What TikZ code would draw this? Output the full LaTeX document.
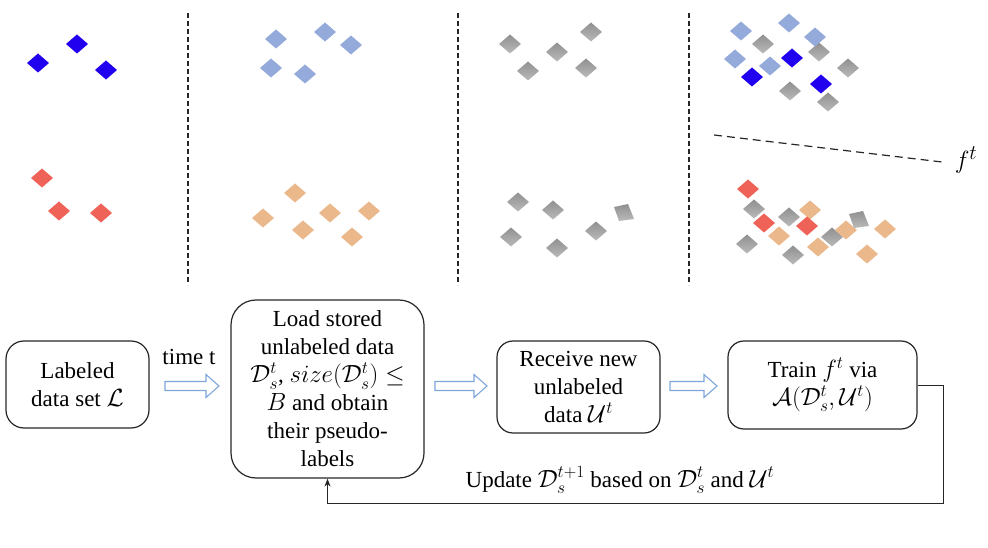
\documentclass[tikz,border=0pt]{standalone}
\usepackage{fontspec}
\setmainfont{LiberationSerif}[Extension=.ttf,UprightFont=*-Regular,BoldFont=*-Bold,ItalicFont=*-Italic,BoldItalicFont=*-BoldItalic]
\usetikzlibrary{arrows.meta}
\definecolor{cblue}{HTML}{2000EE}
\definecolor{cred}{HTML}{EE6257}
\definecolor{clblue}{HTML}{94AADB}
\definecolor{corange}{HTML}{EBB88B}
\definecolor{cgtop}{HTML}{909090}
\definecolor{cgbot}{HTML}{BABABA}
\definecolor{arrblue}{HTML}{7EA6DC}
\definecolor{boxline}{HTML}{262626}
\newcommand\dm[3]{\path[#3] (#1,#2) +(-11,0) -- +(0,-9.5) -- +(11,0) -- +(0,9.5) -- cycle;}
\newcommand\tiltsq[2]{\path[gdia] (#1,#2) +(-10,-5) -- +(4,-8) -- +(10,7) -- +(-5,9) -- cycle;}
\newcommand\barrow[3]{\draw[barr] (#1,#3-4.5) -- (#2-13,#3-4.5) -- (#2-13,#3-11.5) -- (#2,#3) -- (#2-13,#3+11.5) -- (#2-13,#3+4.5) -- (#1,#3+4.5) -- cycle;}
\tikzset{
  bdia/.style={fill=cblue},
  rdia/.style={fill=cred},
  lbdia/.style={fill=clblue},
  odia/.style={fill=corange},
  gdia/.style={top color=cgtop,bottom color=cgbot},
  vsep/.style={line width=1.4pt,dash pattern=on 5pt off 3pt,black!85},
  barr/.style={draw=arrblue,line width=1.1pt,fill=white},
  stepbox/.style={draw=boxline,line width=1.2pt,align=center,inner sep=0pt,
     font=\fontsize{23}{28}\selectfont},
}
\begin{document}
\begin{tikzpicture}[x=1pt,y=-1pt]
\useasboundingbox (0,0) rectangle (988,548);
% separators
\draw[vsep] (188,13) -- (188,285);
\draw[vsep] (458,13) -- (458,285);
\draw[vsep] (689,13) -- (689,285);
% panel 1
\dm{38}{63}{bdia}\dm{77}{44}{bdia}\dm{106}{70}{bdia}
\dm{42}{178}{rdia}\dm{59}{211}{rdia}\dm{101}{213}{rdia}
% panel 2
\dm{276}{39}{lbdia}\dm{325}{32}{lbdia}\dm{351}{45}{lbdia}\dm{271}{68}{lbdia}\dm{305}{74}{lbdia}
\dm{295}{193}{odia}\dm{263}{218}{odia}\dm{330}{213}{odia}\dm{369}{211}{odia}\dm{303}{230}{odia}\dm{352}{237}{odia}
% panel 3
\dm{510}{44}{gdia}\dm{591}{32}{gdia}\dm{557}{52}{gdia}\dm{528}{71}{gdia}\dm{586}{68}{gdia}
\dm{518}{202}{gdia}\dm{553}{210}{gdia}\tiltsq{624}{212}\dm{511}{237}{gdia}\dm{596}{231}{gdia}\dm{557}{248}{gdia}
% panel 4 top
\dm{763}{44}{gdia}\dm{819}{52}{gdia}\dm{848}{68}{gdia}\dm{790}{91}{gdia}\dm{828}{102}{gdia}
\dm{741}{31}{lbdia}\dm{789}{23}{lbdia}\dm{815}{37}{lbdia}\dm{735}{59}{lbdia}\dm{770}{66}{lbdia}
\dm{792}{58}{bdia}\dm{752}{77}{bdia}\dm{821}{84}{bdia}
% decision boundary
\draw[line width=1.2pt,dash pattern=on 8pt off 5pt,black!85] (714,135) -- (942,162);
\node (ft) at (966,160) {\fontsize{30}{34}\selectfont $f^t$};
% panel 4 bottom
\dm{748}{189}{rdia}
\dm{754}{209}{gdia}
\dm{810}{210}{odia}
\dm{764}{223}{rdia}
\dm{789}{217}{gdia}
\dm{807}{226}{rdia}
\dm{779}{236}{odia}
\dm{832}{237}{gdia}
\dm{846}{230}{odia}
\tiltsq{859}{219}
\dm{885}{229}{odia}
\dm{747}{244}{gdia}
\dm{793}{255}{gdia}
\dm{818}{247}{odia}
\dm{867}{254}{odia}
% boxes
\node[stepbox,rounded corners=18pt,minimum width=143pt,minimum height=87pt] (b1) at (77.5,384.5)
  {Labeled\\data set $\mathcal{L}$};
\node[stepbox,rounded corners=25pt,minimum width=193pt,minimum height=178pt] (b2) at (327.5,389)
  {Load stored\\unlabeled data\\$\mathcal{D}_s^t$, $size(\mathcal{D}_s^t)\le$\\$B$ and obtain\\their pseudo-\\labels};
\node[stepbox,rounded corners=16pt,minimum width=163pt,minimum height=92pt] (b3) at (578.5,387)
  {Receive new\\unlabeled\\data $\mathcal{U}^t$};
\node[stepbox,rounded corners=16pt,minimum width=189pt,minimum height=88pt] (b4) at (822.5,385)
  {Train $f^t$ via\\$\mathcal{A}(\mathcal{D}_s^t,\mathcal{U}^t)$};
% block arrows
\barrow{165}{219}{386}
\barrow{435}{487}{386}
\barrow{670}{717}{386}
\node[font=\fontsize{23}{28}\selectfont] (tl) at (189,357) {time t};
% feedback
\coordinate (fb) at (943,503);
\draw[line width=1pt,boxline,-{Stealth[length=8pt,width=6pt]}] (b4.east) -| (fb) -| (b2.south);
\node[font=\fontsize{23}{28}\selectfont] (upd) at (620,480)
  {Update $\mathcal{D}_s^{t+1}$ based on $\mathcal{D}_s^t$ and $\mathcal{U}^t$};
\end{tikzpicture}
\end{document}
